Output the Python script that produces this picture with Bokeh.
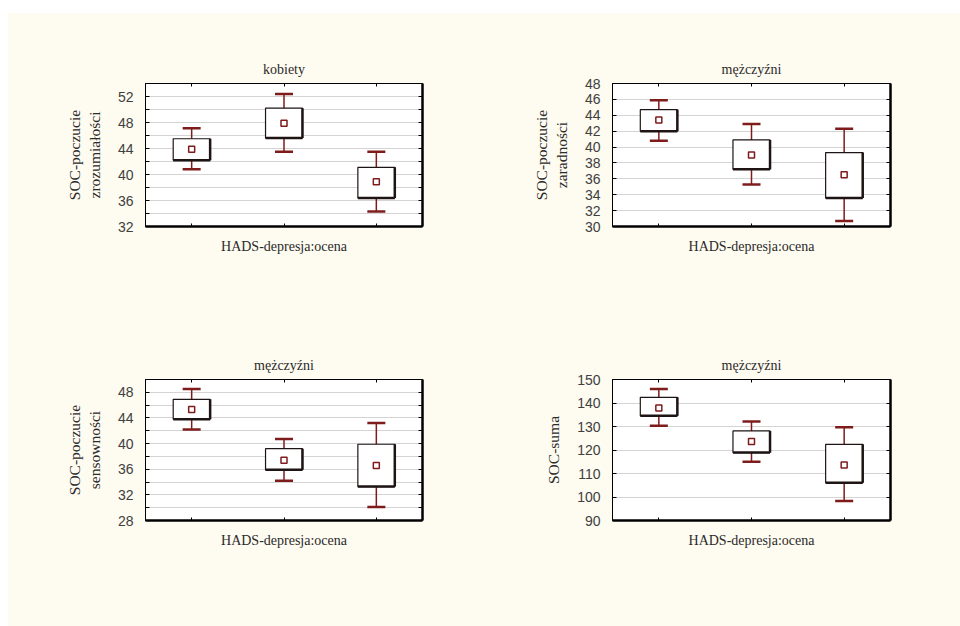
from bokeh.plotting import figure
from bokeh.layouts import column, row
from bokeh.models import (FixedTicker, LinearAxis, CategoricalAxis, Range1d,
                          FactorRange, ColumnDataSource, Spacer)
from bokeh.transform import dodge
from bokeh.embed import file_html
from bokeh.resources import INLINE

# ---------------- data ----------------
groups = ["1", "2", "3"]
xlabel = "HADS-depresja:ocena"

p1_title = "kobiety"
p1_ylabel = "SOC-poczucie\nzrozumiałości"
p1_mean = [43.9, 47.9, 38.9]
p1_box_hi = [45.5, 50.2, 41.1]
p1_box_lo = [42.2, 45.6, 36.4]
p1_whisk_hi = [47.1, 52.4, 43.5]
p1_whisk_lo = [40.8, 43.5, 34.3]
p1_yrange = [32, 54]
p1_ticks = [32, 36, 40, 44, 48, 52]
p1_grid = [32, 34, 36, 38, 40, 42, 44, 46, 48, 50, 52, 54]

p2_title = "mężczyźni"
p2_ylabel = "SOC-poczucie\nzaradności"
p2_mean = [43.4, 39.0, 36.5]
p2_box_hi = [44.7, 40.9, 39.3]
p2_box_lo = [42.0, 37.2, 33.6]
p2_whisk_hi = [45.9, 42.9, 42.3]
p2_whisk_lo = [40.8, 35.3, 30.7]
p2_yrange = [30, 48]
p2_ticks = [30, 32, 34, 36, 38, 40, 42, 44, 46, 48]
p2_grid = [30, 32, 34, 36, 38, 40, 42, 44, 46, 48]

p3_title = "mężczyźni"
p3_ylabel = "SOC-poczucie\nsensowności"
p3_mean = [45.3, 37.4, 36.6]
p3_box_hi = [46.9, 39.2, 39.9]
p3_box_lo = [43.8, 35.9, 33.3]
p3_whisk_hi = [48.5, 40.7, 43.2]
p3_whisk_lo = [42.2, 34.2, 30.1]
p3_yrange = [28, 50]
p3_ticks = [28, 32, 36, 40, 44, 48]
p3_grid = [28, 30, 32, 34, 36, 38, 40, 42, 44, 46, 48, 50]

p4_title = "mężczyźni"
p4_ylabel = "SOC-suma"
p4_mean = [137.9, 123.6, 113.6]
p4_box_hi = [142.4, 128.1, 122.4]
p4_box_lo = [134.6, 118.9, 106.1]
p4_whisk_hi = [146.0, 132.1, 129.7]
p4_whisk_lo = [130.3, 115.0, 98.3]
p4_yrange = [90, 150]
p4_ticks = [90, 100, 110, 120, 130, 140, 150]
p4_grid = [90, 100, 110, 120, 130, 140, 150]

# ---------------- style ----------------
CREAM = "#fefbf0"
RED = "#7e1c1c"
DARK = "#1e1414"
GRID = "#d4d4d4"
SERIF = "'Liberation Serif', 'Times New Roman', serif"
SANS = "'Liberation Sans', Arial, sans-serif"


def panel(title, ylabel, mean, bhi, blo, whi, wlo, yr, ticks, grid,
          fw, fh, bl, br, bt, bb):
    p = figure(x_range=FactorRange(*groups), y_range=Range1d(*yr),
               frame_width=fw, frame_height=fh,
               min_border_left=bl, min_border_right=br,
               min_border_top=bt, min_border_bottom=bb,
               toolbar_location=None, output_backend="svg",
               border_fill_color=CREAM, background_fill_color="white")
    p.title.text = title
    p.title.align = "center"
    p.title.text_font = SERIF
    p.title.text_font_style = "normal"
    p.title.text_font_size = "14px"
    p.title.text_color = "#2a2a2a"
    p.title.standoff = 13

    p.outline_line_color = "black"
    p.outline_line_width = 1

    minor = [g for g in grid if g not in ticks]
    ya = p.yaxis[0]
    ya.ticker = FixedTicker(ticks=ticks, minor_ticks=minor)
    ya.axis_label = ylabel
    ya.axis_label_text_font = SERIF
    ya.axis_label_text_font_style = "normal"
    ya.axis_label_text_font_size = "15.5px"
    ya.axis_label_text_color = "#2a2a2a"
    ya.axis_label_standoff = 12
    ya.major_label_text_font = SANS
    ya.major_label_text_font_size = "14px"
    ya.major_label_text_color = "#404040"
    ya.major_label_standoff = 12
    ya.major_tick_in = 4
    ya.major_tick_out = 0
    ya.minor_tick_in = 4
    ya.minor_tick_out = 0
    ya.axis_line_color = "black"
    ya.axis_line_width = 1

    xa = p.xaxis[0]
    xa.axis_label = xlabel
    xa.axis_label_text_font = SERIF
    xa.axis_label_text_font_style = "normal"
    xa.axis_label_text_font_size = "14px"
    xa.axis_label_text_color = "#2a2a2a"
    xa.axis_label_standoff = 12
    xa.major_label_text_color = None
    xa.major_label_text_font_size = "1px"
    xa.major_label_standoff = 0
    xa.major_tick_in = 3
    xa.major_tick_out = 0
    xa.axis_line_color = "black"
    xa.axis_line_width = 2.5

    ra = LinearAxis(ticker=FixedTicker(ticks=grid),
                    major_label_text_color=None,
                    major_label_text_font_size="1px",
                    major_tick_in=4, major_tick_out=0,
                    minor_tick_line_color=None,
                    axis_line_color="black", axis_line_width=2.5)
    p.add_layout(ra, "right")
    ta = CategoricalAxis(major_label_text_color=None,
                         major_label_text_font_size="1px",
                         major_label_standoff=0,
                         major_tick_in=3, major_tick_out=0,
                         axis_line_color="black", axis_line_width=1)
    p.add_layout(ta, "above")

    p.xgrid.visible = False
    p.ygrid.ticker = FixedTicker(ticks=grid)
    p.ygrid.grid_line_color = GRID

    src = ColumnDataSource(dict(g=groups, mean=mean, bhi=bhi, blo=blo,
                                whi=whi, wlo=wlo))
    p.segment(x0="g", y0="wlo", x1="g", y1="whi", line_color=RED,
              line_width=1.5, source=src)
    p.scatter(x="g", y="whi", marker="dash", size=18, line_color=RED,
              line_width=2.5, source=src)
    p.scatter(x="g", y="wlo", marker="dash", size=18, line_color=RED,
              line_width=2.5, source=src)
    p.vbar(x="g", top="bhi", bottom="blo", width=0.4, fill_color="white",
           line_color=DARK, line_width=1.2, source=src)
    p.segment(x0=dodge("g", 0.2, range=p.x_range), y0="blo",
              x1=dodge("g", 0.2, range=p.x_range), y1="bhi",
              line_color=DARK, line_width=2.5, source=src)
    p.segment(x0=dodge("g", -0.2, range=p.x_range), y0="blo",
              x1=dodge("g", 0.2, range=p.x_range), y1="blo",
              line_color=DARK, line_width=2.5, source=src)
    p.scatter(x="g", y="mean", marker="square", size=6, fill_color="white",
              line_color=RED, line_width=1.5, source=src)
    return p


p1 = panel(p1_title, p1_ylabel, p1_mean, p1_box_hi, p1_box_lo, p1_whisk_hi,
           p1_whisk_lo, p1_yrange, p1_ticks, p1_grid, 277, 143, 137, 58, 70, 74)
p2 = panel(p2_title, p2_ylabel, p2_mean, p2_box_hi, p2_box_lo, p2_whisk_hi,
           p2_whisk_lo, p2_yrange, p2_ticks, p2_grid, 278, 143, 132, 70, 70, 74)
p3 = panel(p3_title, p3_ylabel, p3_mean, p3_box_hi, p3_box_lo, p3_whisk_hi,
           p3_whisk_lo, p3_yrange, p3_ticks, p3_grid, 277, 141, 137, 58, 79, 106)
p4 = panel(p4_title, p4_ylabel, p4_mean, p4_box_hi, p4_box_lo, p4_whisk_hi,
           p4_whisk_lo, p4_yrange, p4_ticks, p4_grid, 278, 141, 132, 70, 79, 106)

white = {"background-color": "white"}
cream = {"background-color": CREAM}
layout = column(Spacer(width=960, height=13, styles=white),
                row(Spacer(width=8, height=287, styles=white), p1, p2,
                    styles=cream),
                row(Spacer(width=8, height=326, styles=white), p3, p4,
                    styles=cream))
open("out.html", "w").write(file_html(layout, INLINE))
